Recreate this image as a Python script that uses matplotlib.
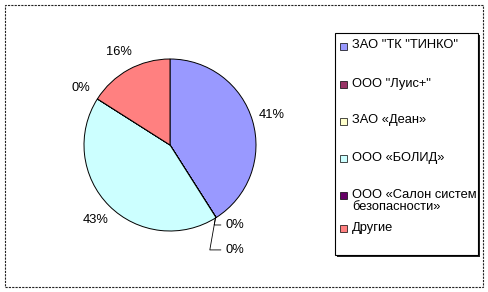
import matplotlib.pyplot as plt
from matplotlib.patches import Rectangle

plt.rcParams['font.family'] = ['Liberation Sans', 'DejaVu Sans']

# Data
companies = ['ЗАО "ТК "ТИНКО"', 'ООО "Луис+"', 'ЗАО «Деан»', 'ООО «БОЛИД»',
             'ООО «Салон систем\nбезопасности»', 'Другие']
shares = [41, 0.01, 0.01, 43, 0.01, 16]
colors = ['#9999FF', '#993366', '#FFFFCC', '#CCFFFF', '#660066', '#FF8080']

W, H = 489, 292
FS = 9.3
fig = plt.figure(figsize=(W / 100, H / 100), dpi=100)

# outer chart frame
fig.patches.append(Rectangle((5 / W, 5 / H), 478 / W, 282 / H, transform=fig.transFigure,
                             fill=False, edgecolor='#222222', linewidth=0.8, linestyle=(0, (2, 1))))

# pie
cx, cy, r = 170, 145, 86
ax = fig.add_axes([(cx - r) / W, (H - cy - r) / H, 2 * r / W, 2 * r / H])
wedges, texts, autotexts = ax.pie(shares, colors=colors, startangle=90, counterclock=False,
                                  autopct='%1.0f%%', pctdistance=1.23,
                                  wedgeprops=dict(edgecolor='black', linewidth=0.7),
                                  textprops=dict(fontsize=FS, color='black'))
ax.set_xlim(-1, 1)
ax.set_ylim(-1, 1)
ax.set_aspect('equal')

# small slices at the bottom are moved apart with leader lines (as in Excel)
for i, ty in [(1, -0.93), (2, -1.22)]:
    t = autotexts[i]
    t.set_visible(False)
    ax.annotate(t.get_text(), xy=(0.53, -0.84), xytext=(0.64, ty), fontsize=FS,
                ha='left', va='center',
                arrowprops=dict(arrowstyle='-', color='black', lw=0.6,
                                connectionstyle='angle,angleA=0,angleB=80,rad=0',
                                shrinkA=1, shrinkB=0))

# legend box with shadow
lx0, ly0, lx1, ly1 = 335, 33, 478, 255
fig.patches.append(Rectangle(((lx0 + 2) / W, (H - ly1 - 2) / H), (lx1 - lx0) / W, (ly1 - ly0) / H,
                             transform=fig.transFigure, facecolor='#222222', edgecolor='none'))
fig.patches.append(Rectangle((lx0 / W, (H - ly1) / H), (lx1 - lx0) / W, (ly1 - ly0) / H,
                             transform=fig.transFigure, facecolor='white', edgecolor='black',
                             linewidth=0.8))

# legend entries (Excel spreads them over the box height)
row_y = [46, 84, 121, 158, 195, 228]
for name, col, y in zip(companies, colors, row_y):
    fig.patches.append(Rectangle((340 / W, (H - y - 3.5) / H), 7 / W, 7 / H,
                                 transform=fig.transFigure, facecolor=col,
                                 edgecolor='black', linewidth=0.5))
    fig.text(352 / W, (H - y + 6.5) / H, name, fontsize=FS, va='top', ha='left',
             linespacing=1.05)

plt.savefig('out.png', dpi=100)
